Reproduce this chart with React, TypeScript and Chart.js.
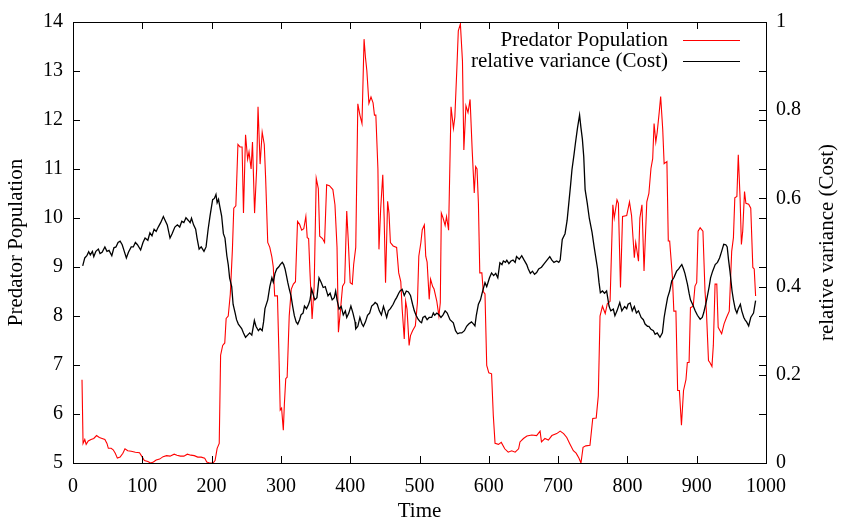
import React, { useEffect, useRef } from "react";
import { Chart, registerables } from "chart.js";

Chart.register(...registerables);

// ---- data ----
const predTime = [
  13, 14.5, 17, 19, 22, 26, 30, 34, 38, 42, 46, 49, 51, 55, 58, 61, 64, 68, 72, 75,
  79, 84, 90, 96, 100, 103, 108, 112, 116, 120, 125, 130, 135, 140, 146, 150, 155, 160, 165, 170,
  175, 180, 185, 190, 193, 197, 202, 205, 208, 211, 213, 216, 219, 221, 224, 227, 230, 232, 235, 238,
  241, 244, 246, 249, 252, 254, 257, 259, 262, 265, 267, 270, 273, 276, 278, 281, 284, 287, 289, 291,
  295, 297, 299, 301, 303.5, 305, 307, 309, 312, 315, 318, 321, 324, 327, 330, 333, 336, 338, 340, 342,
  345, 348, 351, 354, 356, 360, 363, 366, 370, 375, 378, 381, 383, 386, 389, 392, 395, 397, 400, 403,
  405, 408, 411, 414, 417, 420, 422, 424, 427, 430, 433, 435, 437, 440, 441.5, 444, 447, 449, 451, 454,
  456, 458, 462, 467, 470, 473, 475, 478, 480, 482, 485, 487, 490, 494, 497, 499, 502, 504, 507, 509,
  511, 514, 516, 519, 521, 525, 528, 530, 531.5, 534, 537, 539, 542, 545.5, 549, 551, 554, 556, 559, 562,
  564, 567, 570, 573, 576, 579, 581, 583, 585, 587, 590, 592, 594.5, 597, 600, 604, 606.5, 609, 614, 618,
  623, 628, 633, 638, 643, 645, 650, 655, 662, 669, 674, 676, 681, 686, 691, 698, 703, 708, 712.5, 717,
  722, 726, 730, 733, 736, 740, 746, 750, 755, 758, 760.5, 764, 768, 771, 775, 779, 781, 785, 787, 790,
  793, 799, 803, 806, 810, 812, 816, 818, 821, 824, 828, 831, 834, 836.5, 838.5, 841, 843, 846, 848, 851,
  853, 857, 859, 861, 865, 867, 870, 872.5, 875, 878, 881, 884.5, 886.5, 889, 891, 895, 897.5, 900, 902, 905,
  909, 912, 914, 917, 919, 922, 924, 926.5, 929, 931, 936, 939.5, 943, 947, 950.5, 953, 955, 958, 960, 962.6,
  964.5, 966.4, 969, 971, 975, 978, 981, 983, 985,
];
const predValue = [
  6.7, 5.4, 5.48, 5.38, 5.45, 5.48, 5.5, 5.56, 5.52, 5.5, 5.48, 5.4, 5.3, 5.3, 5.27, 5.2, 5.1, 5.12, 5.2, 5.29,
  5.25, 5.24, 5.22, 5.21, 5.12, 5.05, 5.03, 5.0, 5.02, 5.06, 5.08, 5.13, 5.15, 5.14, 5.18, 5.16, 5.14, 5.14, 5.18, 5.16,
  5.15, 5.12, 5.12, 5.1, 5.02, 5.0, 5.0, 5.05, 5.3, 5.4, 7.2, 7.4, 7.45, 7.95, 8.0, 8.45, 9.35, 10.2, 10.25, 11.5,
  11.45, 11.45, 10.1, 11.7, 11.2, 11.35, 11.0, 11.55, 10.1, 11.0, 12.27, 11.1, 11.75, 11.5, 10.8, 9.5, 9.4, 9.2, 9.0, 8.41,
  8.41, 7.33, 6.08, 6.12, 5.67, 6.2, 6.72, 6.75, 8.0, 8.55, 8.65, 8.7, 9.93, 9.87, 9.75, 9.78, 10.03, 9.6, 9.58, 8.88,
  7.94, 8.6, 10.81, 10.6, 9.63, 9.58, 9.5, 10.68, 10.66, 10.58, 10.27, 9.4, 7.67, 8.13, 8.61, 8.68, 10.14, 9.6, 8.68, 8.65,
  9.05, 9.4, 12.33, 12.1, 11.93, 13.65, 13.28, 13.01, 12.34, 12.47, 12.35, 12.1, 12.1, 11.0, 9.36, 10.2, 10.88, 10.0, 8.68, 10.34,
  10.1, 9.5, 9.43, 9.4, 8.88, 8.7, 8.14, 7.53, 8.3, 8.14, 7.4, 7.6, 7.7, 7.8, 8.27, 9.22, 9.5, 9.76, 9.86, 9.22,
  9.1, 8.34, 8.75, 8.6, 8.55, 8.3, 8.0, 8.27, 10.1, 10.0, 9.85, 10.03, 9.75, 12.27, 11.83, 12.06, 13.08, 13.82, 13.96, 13.2,
  11.39, 12.29, 12.15, 12.42, 11.39, 10.51, 11.05, 11.0, 10.3, 8.88, 8.88, 8.5, 8.45, 6.99, 6.84, 6.82, 5.97, 5.4, 5.38, 5.42,
  5.29, 5.22, 5.25, 5.22, 5.29, 5.43, 5.5, 5.55, 5.57, 5.56, 5.65, 5.43, 5.5, 5.47, 5.56, 5.6, 5.65, 5.6, 5.52, 5.39,
  5.25, 5.2, 5.1, 5.0, 5.32, 5.35, 5.36, 5.91, 5.92, 6.37, 8.0, 8.2, 8.05, 8.25, 8.3, 10.27, 10.0, 10.37, 10.3, 8.58,
  10.03, 10.05, 10.33, 10.05, 9.19, 9.5, 9.12, 10.0, 10.27, 8.92, 10.33, 10.5, 11.01, 11.21, 11.93, 11.55, 11.75, 12.17, 12.48, 11.8,
  11.11, 11.15, 9.53, 9.53, 8.78, 8.1, 8.1, 6.48, 6.48, 5.77, 6.48, 6.7, 7.05, 7.05, 8.17, 8.2, 8.61, 8.68, 9.73, 9.8,
  9.73, 8.5, 8.1, 7.09, 7.05, 6.97, 7.4, 8.65, 8.65, 7.77, 7.64, 7.84, 7.97, 8.1, 9.32, 9.6, 10.41, 10.44, 11.29, 10.41,
  9.46, 9.73, 10.54, 10.3, 10.28, 10.2, 8.99, 8.96, 8.41,
];

const varTime = [
  14, 17, 20, 22.6, 25, 28, 30, 33, 36.6, 39, 42, 46, 49, 52, 56, 59, 62, 65, 68, 71,
  74, 77, 80, 84, 87, 90, 93, 97.6, 101, 104, 108, 111, 114, 117, 120, 123, 126.5, 130.4, 133, 136,
  140, 143, 147, 150.6, 154, 157, 160, 163, 166.5, 169, 171, 174, 177, 179, 182, 185, 189, 192, 195, 197.7,
  201.5, 204, 206.3, 208, 210, 212, 214.5, 217, 219.3, 222, 224, 226, 229, 231, 234, 236, 238.6, 241, 243.4, 246,
  249, 252, 255, 258, 261.7, 264, 267.5, 270, 273, 275, 277, 281, 284, 287, 289, 291.5, 294, 297, 299, 302,
  304, 306, 308, 310, 312, 314.6, 317, 319.4, 322, 324.3, 327, 329, 332, 334, 337, 340, 342, 344.4, 347, 349,
  352, 355, 358, 361, 364, 368, 371, 374, 377, 379, 381, 384, 387, 390, 393, 395, 398, 401, 404, 407,
  408, 411, 414, 417, 419, 422, 425, 428, 431, 434, 436, 439, 442, 445, 448, 450, 452.6, 455, 458, 462,
  465, 467, 470, 472, 475, 478, 481, 484, 487, 490, 492.5, 495, 498, 501, 503, 505, 508, 511, 514, 517.5,
  520, 522, 525, 528, 531, 534, 537, 540, 544, 548.8, 552, 555, 558, 561, 564.8, 568, 571, 575, 578, 580,
  582, 585, 588, 590, 592, 594.5, 597, 599, 601, 604, 607, 610, 613, 616, 619, 621, 624, 626, 629, 632,
  635, 638, 640, 644, 647.5, 651, 654.7, 657, 660, 663, 666, 669, 672, 676, 680, 684, 688, 691, 694, 698,
  701, 703, 706, 710, 713, 715, 718, 720, 723, 725, 728, 731, 733, 735, 737, 739, 742, 745, 749, 752,
  755, 757, 759, 761, 764, 767, 770, 773.5, 776, 779.7, 782, 785, 789, 792, 796, 799, 801, 804, 807, 810,
  813, 816, 819.8, 823, 825.5, 829, 831, 834, 837.5, 840, 843, 845, 847, 850.5, 853, 855, 858, 861, 864, 867,
  871, 874, 876, 878.5, 881, 883, 886.7, 889, 891, 894, 897.8, 901, 905, 908, 910, 913, 915, 918, 920, 923,
  926.7, 930, 933, 936, 939, 942, 944, 946, 948, 951, 953, 955.6, 958, 960, 963, 965, 968, 970, 972, 975,
  978, 980, 982, 985,
];
const varValue = [
  0.447, 0.465, 0.47, 0.479, 0.472, 0.48, 0.468, 0.48, 0.485, 0.475, 0.478, 0.49, 0.48, 0.482, 0.47, 0.488, 0.49, 0.5, 0.503, 0.495,
  0.48, 0.465, 0.478, 0.49, 0.49, 0.5, 0.495, 0.483, 0.5, 0.51, 0.505, 0.522, 0.515, 0.53, 0.525, 0.535, 0.545, 0.559, 0.55, 0.54,
  0.51, 0.52, 0.535, 0.54, 0.535, 0.548, 0.545, 0.556, 0.55, 0.545, 0.555, 0.54, 0.53, 0.51, 0.485, 0.49, 0.48, 0.49, 0.53, 0.56,
  0.597, 0.6, 0.609, 0.59, 0.598, 0.58, 0.56, 0.52, 0.51, 0.47, 0.45, 0.42, 0.4, 0.36, 0.34, 0.325, 0.315, 0.31, 0.305, 0.295,
  0.285, 0.29, 0.295, 0.29, 0.323, 0.31, 0.3, 0.305, 0.3, 0.32, 0.35, 0.37, 0.4, 0.42, 0.41, 0.43, 0.44, 0.445, 0.45, 0.455,
  0.45, 0.44, 0.425, 0.409, 0.395, 0.379, 0.355, 0.334, 0.32, 0.315, 0.325, 0.336, 0.34, 0.356, 0.35, 0.36, 0.37, 0.394, 0.38, 0.37,
  0.375, 0.42, 0.41, 0.398, 0.4, 0.379, 0.385, 0.37, 0.375, 0.39, 0.37, 0.349, 0.355, 0.336, 0.345, 0.33, 0.34, 0.356, 0.34, 0.32,
  0.304, 0.31, 0.33, 0.315, 0.31, 0.32, 0.335, 0.34, 0.356, 0.36, 0.364, 0.36, 0.345, 0.336, 0.355, 0.345, 0.33, 0.345, 0.35, 0.36,
  0.37, 0.375, 0.385, 0.39, 0.394, 0.38, 0.39, 0.388, 0.38, 0.36, 0.345, 0.335, 0.326, 0.32, 0.318, 0.33, 0.333, 0.325, 0.33, 0.33,
  0.34, 0.335, 0.34, 0.336, 0.33, 0.336, 0.345, 0.34, 0.325, 0.318, 0.3, 0.293, 0.295, 0.295, 0.3, 0.31, 0.315, 0.32, 0.315, 0.311,
  0.335, 0.36, 0.37, 0.383, 0.395, 0.409, 0.4, 0.41, 0.42, 0.431, 0.425, 0.43, 0.42, 0.454, 0.45, 0.458, 0.455, 0.46, 0.452, 0.458,
  0.46, 0.455, 0.468, 0.462, 0.47, 0.46, 0.45, 0.44, 0.43, 0.435, 0.428, 0.432, 0.44, 0.444, 0.452, 0.46, 0.468, 0.46, 0.455, 0.458,
  0.455, 0.46, 0.507, 0.52, 0.55, 0.582, 0.63, 0.665, 0.7, 0.725, 0.76, 0.789, 0.76, 0.735, 0.695, 0.62, 0.59, 0.555, 0.523, 0.49,
  0.46, 0.44, 0.41, 0.386, 0.39, 0.385, 0.39, 0.356, 0.345, 0.349, 0.334, 0.345, 0.364, 0.345, 0.355, 0.35, 0.36, 0.363, 0.345, 0.355,
  0.34, 0.345, 0.33, 0.325, 0.315, 0.31, 0.31, 0.303, 0.3, 0.292, 0.295, 0.29, 0.285, 0.295, 0.33, 0.349, 0.375, 0.39, 0.413, 0.42,
  0.435, 0.44, 0.445, 0.45, 0.44, 0.43, 0.405, 0.385, 0.37, 0.36, 0.345, 0.335, 0.326, 0.33, 0.34, 0.36, 0.375, 0.4, 0.42, 0.435,
  0.45, 0.455, 0.465, 0.48, 0.496, 0.495, 0.49, 0.46, 0.435, 0.39, 0.37, 0.349, 0.34, 0.35, 0.36, 0.345, 0.33, 0.324, 0.32, 0.311,
  0.33, 0.335, 0.34, 0.368,
];

const xTickValues = [0, 100, 200, 300, 400, 500, 600, 700, 800, 900, 1000];
const leftTickValues = [5, 6, 7, 8, 9, 10, 11, 12, 13, 14];
const rightTickValues = [0, 0.2, 0.4, 0.6, 0.8, 1];

const seriesNames = ["Predator Population", "relative variance (Cost)"];
const seriesColors = ["#ff0000", "#000000"];
const xTitle = "Time";
const yTitle = "Predator Population";
const y2Title = "relative variance (Cost)";

const FAMILY = '"Liberation Serif", "Times New Roman", serif';
const TICK_SIZE = 20;
const TEXT_SIZE = 21;

const plainLabel = (v: any) => String(v);

const gnuplotFrame = {
  id: "gnuplotFrame",
  afterDatasetsDraw(chart: any) {
    const { ctx, chartArea: a, scales } = chart;
    const L = 7;
    ctx.save();
    ctx.strokeStyle = "#000";
    ctx.lineWidth = 1;
    ctx.beginPath();
    for (const v of xTickValues) {
      const px = Math.round(scales.x.getPixelForValue(v)) + 0.5;
      ctx.moveTo(px, a.bottom);
      ctx.lineTo(px, a.bottom - L);
      ctx.moveTo(px, a.top);
      ctx.lineTo(px, a.top + L);
    }
    for (const v of leftTickValues) {
      const py = Math.round(scales.y.getPixelForValue(v)) + 0.5;
      ctx.moveTo(a.left, py);
      ctx.lineTo(a.left + L, py);
      ctx.moveTo(a.right, py);
      ctx.lineTo(a.right - L, py);
    }
    for (const v of rightTickValues) {
      const py = Math.round(scales.y2.getPixelForValue(v)) + 0.5;
      ctx.moveTo(a.right, py);
      ctx.lineTo(a.right - L, py);
    }
    ctx.stroke();
    ctx.strokeRect(Math.round(a.left) + 0.5, Math.round(a.top) + 0.5, Math.round(a.right - a.left), Math.round(a.bottom - a.top));

    // axis titles
    ctx.fillStyle = "#000";
    ctx.font = `${TEXT_SIZE}px ${FAMILY}`;
    ctx.textAlign = "center";
    ctx.textBaseline = "middle";
    const midY = (a.top + a.bottom) / 2;
    ctx.save();
    ctx.translate(16, midY);
    ctx.rotate(-Math.PI / 2);
    ctx.fillText(yTitle, 0, 0);
    ctx.restore();
    ctx.save();
    ctx.translate(chart.width - 14, midY);
    ctx.rotate(-Math.PI / 2);
    ctx.fillText(y2Title, 0, 0);
    ctx.restore();
    ctx.fillText(xTitle, (a.left + a.right) / 2, chart.height - 13);

    // legend (top right, inside)
    ctx.textAlign = "right";
    const textRight = a.right - 98;
    const lineX0 = a.right - 83;
    const lineX1 = a.right - 26;
    seriesNames.forEach((name, i) => {
      const y = a.top + 18 + i * 21;
      ctx.fillStyle = "#000";
      ctx.fillText(name, textRight, y);
      ctx.strokeStyle = seriesColors[i];
      ctx.lineWidth = 1;
      ctx.beginPath();
      ctx.moveTo(lineX0, Math.round(y) + 0.5);
      ctx.lineTo(lineX1, Math.round(y) + 0.5);
      ctx.stroke();
    });
    ctx.restore();
  },
};

export default function App() {
  const canvasRef = useRef<HTMLCanvasElement | null>(null);

  useEffect(() => {
    document.body.style.margin = "0";
    const canvas = canvasRef.current;
    if (!canvas) return;
    const predData = predTime.map((t, i) => ({ x: t, y: predValue[i] }));
    const varData = varTime.map((t, i) => ({ x: t, y: varValue[i] }));
    const tickFont = { family: FAMILY, size: TICK_SIZE };
    const chart = new Chart(canvas, {
      type: "line",
      data: {
        datasets: [
          {
            label: seriesNames[0],
            data: predData,
            yAxisID: "y",
            borderColor: seriesColors[0],
            borderWidth: 1.1,
            pointRadius: 0,
            tension: 0,
            order: 2,
          },
          {
            label: seriesNames[1],
            data: varData,
            yAxisID: "y2",
            borderColor: seriesColors[1],
            borderWidth: 1.3,
            pointRadius: 0,
            tension: 0,
            order: 1,
          },
        ],
      },
      options: {
        responsive: false,
        animation: false,
        devicePixelRatio: 1,
        layout: { padding: { top: 20, left: 0, right: 0, bottom: 0 } },
        plugins: { legend: { display: false }, tooltip: { enabled: false } },
        scales: {
          x: {
            type: "linear",
            min: 0,
            max: 1000,
            afterBuildTicks: (s: any) => {
              s.ticks = xTickValues.map((v) => ({ value: v }));
            },
            afterFit: (s: any) => {
              s.height = 61;
            },
            grid: { display: false, drawTicks: false },
            border: { display: false },
            ticks: { color: "#000", font: tickFont, padding: 12, maxRotation: 0, autoSkip: false, callback: plainLabel },
          },
          y: {
            type: "linear",
            position: "left",
            min: 5,
            max: 14,
            afterBuildTicks: (s: any) => {
              s.ticks = leftTickValues.map((v) => ({ value: v }));
            },
            afterFit: (s: any) => {
              s.width = 73;
            },
            grid: { display: false, drawTicks: false },
            border: { display: false },
            ticks: { color: "#000", font: tickFont, padding: 10, callback: plainLabel },
          },
          y2: {
            type: "linear",
            position: "right",
            min: 0,
            max: 1,
            afterBuildTicks: (s: any) => {
              s.ticks = rightTickValues.map((v) => ({ value: v }));
            },
            afterFit: (s: any) => {
              s.width = 75;
            },
            grid: { display: false, drawTicks: false },
            border: { display: false },
            ticks: { color: "#000", font: tickFont, padding: 10, callback: plainLabel },
          },
        },
      },
      plugins: [gnuplotFrame],
    });
    return () => chart.destroy();
  }, []);

  return (
    <div style={{ position: "fixed", left: 0, top: 0, width: 841, height: 524, background: "#fff" }}>
      <canvas ref={canvasRef} width={841} height={524} style={{ width: 841, height: 524 }} />
    </div>
  );
}
